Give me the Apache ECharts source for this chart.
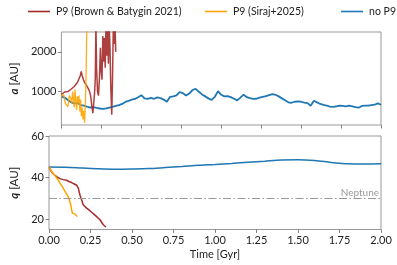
<!DOCTYPE html>
<html><head><meta charset="utf-8">
<script src="https://cdn.jsdelivr.net/npm/echarts@6/dist/echarts.min.js"></script>
<style>html,body{margin:0;padding:0;background:#fff}#c{width:397px;height:265px}</style>
</head><body><div id="c"></div>
<script>
// ---- data ----
const xTicks = [0, 0.25, 0.5, 0.75, 1.0, 1.25, 1.5, 1.75, 2.0];
const aTicks = [1000, 2000];
const qTicks = [20, 40, 60];
const neptuneQ = 30;

const brownA_t = [0.000,0.010,0.020,0.030,0.040,0.050,0.060,0.070,0.080,0.090,0.100,0.110,0.118,0.124,0.130,0.138,0.145,0.155,0.165,0.175,0.183,0.190,0.197,0.203,0.208,0.212,0.216,0.220,0.226,0.232,0.238,0.244,0.249,0.254,0.259,0.264,0.269,0.274,0.279,0.284,0.289,0.294,0.299,0.304,0.309,0.315,0.320,0.325,0.330,0.335,0.340];
const brownA_v = [930,965,990,1010,1000,1040,1060,1090,1130,1180,1230,1280,1400,1510,1400,1300,1230,1180,1100,1020,900,640,460,750,1000,1350,2700,1600,1000,900,1350,2100,1500,1300,2400,1750,2350,1600,2700,1900,2600,1700,2700,2100,1100,420,1400,2700,2200,2800,2000];

const orangeA_t = [0.000,0.005,0.010,0.015,0.020,0.025,0.030,0.035,0.040,0.045,0.050,0.055,0.060,0.065,0.070,0.075,0.080,0.085,0.090,0.095,0.100,0.105,0.110,0.115,0.120,0.125,0.130,0.135,0.140,0.145,0.150,0.155,0.160];
const orangeA_v = [880,900,850,920,780,700,650,720,620,760,900,940,820,700,1000,850,600,1050,780,540,880,700,900,500,800,380,600,300,520,220,700,1500,3000];

const blueA_t = [0.00,0.02,0.04,0.06,0.08,0.10,0.12,0.14,0.16,0.18,0.20,0.22,0.24,0.26,0.28,0.30,0.32,0.34,0.36,0.38,0.40,0.42,0.44,0.46,0.48,0.50,0.52,0.54,0.56,0.58,0.60,0.62,0.64,0.66,0.68,0.70,0.72,0.74,0.76,0.78,0.80,0.82,0.84,0.86,0.88,0.90,0.92,0.94,0.96,0.98,1.00,1.02,1.04,1.06,1.08,1.10,1.12,1.14,1.16,1.18,1.20,1.22,1.24,1.26,1.28,1.30,1.32,1.34,1.36,1.38,1.40,1.42,1.44,1.46,1.48,1.50,1.52,1.54,1.56,1.58,1.60,1.62,1.64,1.66,1.68,1.70,1.72,1.74,1.76,1.78,1.80,1.82,1.84,1.86,1.88,1.90,1.92,1.94,1.96,1.98,2.00];
const blueA_v = [880,850,790,735,700,715,660,645,620,600,610,590,575,565,580,600,615,640,660,690,740,765,800,815,860,910,830,815,840,820,855,835,800,745,870,880,905,990,960,900,950,1040,1070,995,930,880,830,790,870,1010,920,880,885,860,820,780,850,925,860,835,815,820,850,870,885,910,935,920,880,830,780,730,720,745,755,745,725,710,645,770,730,690,665,650,620,615,630,645,640,630,645,630,610,595,640,645,650,660,670,705,670];

const brownQ_t = [0.000,0.010,0.020,0.036,0.050,0.066,0.086,0.106,0.120,0.136,0.150,0.167,0.172,0.177,0.182,0.187,0.192,0.197,0.202,0.207,0.217,0.227,0.242,0.257,0.272,0.287,0.297,0.307,0.317,0.327,0.335,0.343];
const brownQ_v = [45,43.5,42.2,41.1,40.2,39.5,39.0,38.7,38.1,37.6,37.0,36.3,35.8,34.8,33.0,31.5,30.2,29.2,27.8,26.8,26.0,25.3,24.3,23.3,22.3,21.2,20.5,19.7,18.5,17.3,16.6,16.2];

const orangeQ_t = [0.000,0.020,0.040,0.056,0.070,0.086,0.100,0.116,0.124,0.131,0.136,0.141,0.150,0.157,0.163,0.170];
const orangeQ_v = [45,42.5,40.5,38.7,36.8,34.8,32.9,30.8,28.8,26.8,24.5,22.9,22.6,22.4,21.7,21.2];

const blueQ_t = [0.0,0.1,0.2,0.3,0.4,0.5,0.6,0.7,0.8,0.9,1.0,1.1,1.2,1.3,1.4,1.5,1.6,1.7,1.8,1.9,2.0];
const blueQ_v = [45.1,45.0,44.6,44.2,44.0,44.1,44.3,44.8,45.3,45.9,46.3,46.8,47.4,47.9,48.4,48.6,48.2,47.3,46.6,46.5,46.6];

const names = ['P9 (Brown & Batygin 2021)', 'P9 (Siraj+2025)', 'no P9'];
const colors = ['#a52a2a', '#ffa500', '#1f77b4'];

// ---- chart ----
const zip = (t, v) => t.map((x, i) => [x, v[i]]);
const FONT = 'Lato';
const frame = '#999';
const tickCommon = { show: true, length: 3.5, lineStyle: { color: '#666', width: 0.8 } };

const chart = echarts.init(document.getElementById('c'), null, { renderer: 'canvas' });
const mkLegend = (i, pos) => Object.assign({
  data: [names[i]], top: 6, itemWidth: 22, itemHeight: 12, itemGap: 0, padding: 0,
  textStyle: { fontFamily: FONT, fontSize: 10.5, color: '#222', padding: [0, 0, 0, 1] },
  icon: 'path://M0,5 L22,5 L22,6.6 L0,6.6 Z'
}, pos);
chart.setOption({
  animation: false,
  textStyle: { fontFamily: FONT },
  legend: [mkLegend(0, { left: 28 }), mkLegend(1, { left: 205 }), mkLegend(2, { right: 1 })],
  grid: [
    { left: 49, top: 32, width: 332, height: 93, show: true, borderColor: frame, borderWidth: 1, backgroundColor: 'transparent' },
    { left: 49, top: 136, width: 332, height: 93.5, show: true, borderColor: frame, borderWidth: 1, backgroundColor: 'transparent' }
  ],
  xAxis: [
    { type: 'value', gridIndex: 0, min: 0, max: 2, interval: 0.25,
      axisLine: { show: false }, axisTick: tickCommon, axisLabel: { show: false }, splitLine: { show: false } },
    { type: 'value', gridIndex: 1, min: 0, max: 2, interval: 0.25,
      axisLine: { show: false }, axisTick: tickCommon,
      axisLabel: { show: true, fontFamily: FONT, fontSize: 11, color: '#222', margin: 5, formatter: v => v.toFixed(2) },
      splitLine: { show: false },
      name: 'Time [Gyr]', nameLocation: 'middle', nameGap: 19,
      nameTextStyle: { fontFamily: FONT, fontSize: 11, color: '#222' } }
  ],
  yAxis: [
    { type: 'value', gridIndex: 0, min: 160, max: 2500,
      axisLine: { show: false }, axisTick: Object.assign({}, tickCommon, { customValues: aTicks }),
      axisLabel: { fontFamily: FONT, fontSize: 11, color: '#222', margin: 5, customValues: aTicks, formatter: v => String(v) },
      splitLine: { show: false },
      name: '{b|a} [AU]', nameLocation: 'middle', nameGap: 32,
      nameTextStyle: { fontFamily: FONT, fontSize: 11.5, color: '#222',
        rich: { b: { fontFamily: FONT, fontSize: 11.5, fontStyle: 'italic', fontWeight: 'bold', color: '#222' } } } },
    { type: 'value', gridIndex: 1, min: 15, max: 60,
      axisLine: { show: false }, axisTick: Object.assign({}, tickCommon, { customValues: qTicks }),
      axisLabel: { fontFamily: FONT, fontSize: 11, color: '#222', margin: 5, customValues: qTicks, formatter: v => String(v) },
      splitLine: { show: false },
      name: '{b|q} [AU]', nameLocation: 'middle', nameGap: 21,
      nameTextStyle: { fontFamily: FONT, fontSize: 11.5, color: '#222',
        rich: { b: { fontFamily: FONT, fontSize: 11.5, fontStyle: 'italic', fontWeight: 'bold', color: '#222' } } } }
  ],
  series: [
    { name: names[2], type: 'line', xAxisIndex: 0, yAxisIndex: 0, data: zip(blueA_t, blueA_v), symbol: 'none',
      lineStyle: { color: colors[2], width: 1.8 }, itemStyle: { color: colors[2] }, z: 2 },
    { name: names[0], type: 'line', xAxisIndex: 0, yAxisIndex: 0, data: zip(brownA_t, brownA_v), symbol: 'none',
      lineStyle: { color: colors[0], width: 1.5, opacity: 0.9 }, itemStyle: { color: colors[0] }, z: 3 },
    { name: names[1], type: 'line', xAxisIndex: 0, yAxisIndex: 0, data: zip(orangeA_t, orangeA_v), symbol: 'none',
      lineStyle: { color: colors[1], width: 1.3, opacity: 0.9 }, itemStyle: { color: colors[1] }, z: 4 },
    { name: names[2], type: 'line', xAxisIndex: 1, yAxisIndex: 1, data: zip(blueQ_t, blueQ_v), symbol: 'none', smooth: 0.3,
      lineStyle: { color: colors[2], width: 1.5 }, itemStyle: { color: colors[2] }, z: 2,
      markLine: { silent: true, symbol: 'none', animation: false,
        data: [{ yAxis: neptuneQ }],
        lineStyle: { color: '#999', width: 1.2, type: [8, 2.5, 1.5, 2.5] },
        label: { show: true, position: 'insideEndTop', formatter: 'Neptune', color: '#999', fontFamily: FONT, fontSize: 10, distance: [2, 1] } } },
    { name: names[0], type: 'line', xAxisIndex: 1, yAxisIndex: 1, data: zip(brownQ_t, brownQ_v), symbol: 'none',
      lineStyle: { color: colors[0], width: 1.5 }, itemStyle: { color: colors[0] }, z: 3 },
    { name: names[1], type: 'line', xAxisIndex: 1, yAxisIndex: 1, data: zip(orangeQ_t, orangeQ_v), symbol: 'none',
      lineStyle: { color: colors[1], width: 1.5 }, itemStyle: { color: colors[1] }, z: 4 }
  ]
});
</script></body></html>
